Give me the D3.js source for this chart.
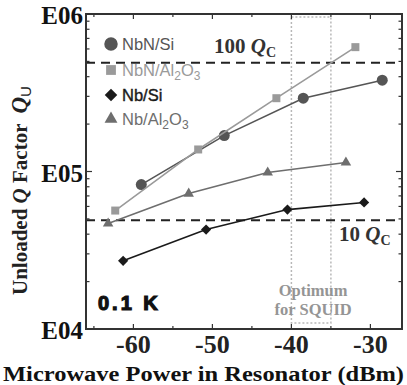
<!DOCTYPE html>
<html>
<head>
<meta charset="utf-8">
<script src="https://cdn.jsdelivr.net/npm/d3@7"></script>
<style>
  body { margin: 0; background: #fff; }
  svg { display: block; }
</style>
</head>
<body>
<div id="chart"></div>
<script>
// data
const seriesNames = ["NbN/Si", "NbN/Al2O3", "Nb/Si", "Nb/Al2O3"];
const nbnSiPower = [-59, -48.5, -38.5, -28.5];
const nbnSiQ = [82600, 169000, 292000, 380000];
const nbnAlPower = [-62.3, -51.8, -41.9, -31.9];
const nbnAlQ = [56500, 138000, 292000, 616000];
const nbSiPower = [-61.3, -50.8, -40.5, -30.8];
const nbSiQ = [27100, 42800, 57300, 63600];
const nbAlPower = [-63.2, -53, -43, -33.1];
const nbAlQ = [46700, 72400, 98600, 114000];
const qc = 4900;
const qcLines = [10, 100];
const xTicks = [-60, -50, -40, -30];
const yTickLabels = ["E04", "E05", "E06"];
const optimumBand = [-40, -35];

const W = 407, H = 385;
const margin = {top: 14, right: 5, bottom: 56, left: 86};

const svg = d3.select("#chart").append("svg")
  .attr("width", W).attr("height", H);

const x = d3.scaleLinear().domain([-66, -26]).range([margin.left, W - margin.right]);
const y = d3.scaleLog().domain([1e4, 1e6]).range([H - margin.bottom, margin.top]);

const serif = "'Liberation Serif', 'Times New Roman', serif";
const sans = "'Liberation Sans', Arial, sans-serif";

// optimum band (dotted box)
svg.append("rect")
  .attr("x", x(optimumBand[0])).attr("y", margin.top + 3)
  .attr("width", x(optimumBand[1]) - x(optimumBand[0]))
  .attr("height", y(1e4) - margin.top - 9)
  .attr("fill", "none").attr("stroke", "#b8b8b8")
  .attr("stroke-width", 1.5).attr("stroke-dasharray", "2,2");

const bandMid = (x(optimumBand[0]) + x(optimumBand[1])) / 2 + 2;
svg.append("text").attr("x", bandMid).attr("y", 296)
  .attr("text-anchor", "middle").attr("font-family", serif).attr("font-weight", "bold")
  .attr("font-size", 16.5).attr("fill", "#959595").text("Optimum");
svg.append("text").attr("x", bandMid).attr("y", 315)
  .attr("text-anchor", "middle").attr("font-family", serif).attr("font-weight", "bold")
  .attr("font-size", 16.5).attr("fill", "#959595").text("for SQUID");

// dashed Qc reference lines
qcLines.forEach(m => {
  svg.append("line")
    .attr("x1", x(-66)).attr("x2", x(-26))
    .attr("y1", y(m * qc)).attr("y2", y(m * qc))
    .attr("stroke", "#222").attr("stroke-width", 2).attr("stroke-dasharray", "9,6");
});

function qcLabel(txt, xp, yp) {
  const t = svg.append("text").attr("x", xp).attr("y", yp)
    .attr("font-family", serif).attr("font-weight", "bold").attr("font-size", 21).attr("fill", "#333");
  t.append("tspan").text(txt + " ");
  t.append("tspan").attr("font-style", "italic").text("Q");
  t.append("tspan").attr("font-size", 14).attr("dy", 4).attr("font-style", "normal").text("C");
}
qcLabel("100", 214, 53);
qcLabel("10", 339, 241);

// axes frame
const g = svg.append("g");
g.append("rect")
  .attr("x", margin.left).attr("y", margin.top)
  .attr("width", W - margin.left - margin.right)
  .attr("height", H - margin.top - margin.bottom)
  .attr("fill", "none").attr("stroke", "#333").attr("stroke-width", 2);

// x ticks (bottom and top, inward)
const xMinor = d3.range(-65, -26, 5);
xMinor.forEach(v => {
  const len = xTicks.includes(v) ? 5 : 3;
  g.append("line").attr("x1", x(v)).attr("x2", x(v))
    .attr("y1", y(1e4)).attr("y2", y(1e4) - len).attr("stroke", "#333").attr("stroke-width", 1.2);
  g.append("line").attr("x1", x(v)).attr("x2", x(v))
    .attr("y1", margin.top).attr("y2", margin.top + len).attr("stroke", "#333").attr("stroke-width", 1.2);
});
xTicks.forEach(v => {
  svg.append("text").attr("x", x(v)).attr("y", 353)
    .attr("text-anchor", "middle").attr("font-family", serif).attr("font-weight", "bold")
    .attr("font-size", 26).attr("fill", "#222").text(v);
});

// y ticks (log, left and right, inward)
const yT = y.ticks().filter(v => v >= 1e4 && v <= 1e6);
yT.forEach(v => {
  const major = Math.abs(Math.log10(v) - Math.round(Math.log10(v))) < 1e-9;
  const len = major ? 6 : 3.5;
  g.append("line").attr("x1", margin.left).attr("x2", margin.left + len)
    .attr("y1", y(v)).attr("y2", y(v)).attr("stroke", "#333").attr("stroke-width", 1.2);
  g.append("line").attr("x1", W - margin.right).attr("x2", W - margin.right - len)
    .attr("y1", y(v)).attr("y2", y(v)).attr("stroke", "#333").attr("stroke-width", 1.2);
});
[1e4, 1e5, 1e6].forEach((v, i) => {
  svg.append("text").attr("x", margin.left - 3).attr("y", y(v) + 10)
    .attr("text-anchor", "end").attr("font-family", serif).attr("font-weight", "bold")
    .attr("font-size", 25).attr("fill", "#111").text(yTickLabels[i]);
});

// axis titles
svg.append("text").attr("x", 3).attr("y", 381)
  .attr("font-family", serif).attr("font-weight", "bold")
  .attr("textLength", 401).attr("lengthAdjust", "spacingAndGlyphs")
  .attr("font-size", 20.5).attr("fill", "#111").text("Microwave Power in Resonator (dBm)");

const yt = svg.append("text").attr("transform", "translate(27,295) rotate(-90)")
  .attr("font-family", serif).attr("font-weight", "bold")
  .attr("font-size", 21).attr("fill", "#222");
yt.append("tspan").text("Unloaded ");
yt.append("tspan").attr("font-style", "italic").text("Q");
yt.append("tspan").text(" Factor");
yt.append("tspan").attr("font-style", "italic").attr("font-size", 23).attr("dx", 10).text("Q");
yt.append("tspan").attr("font-family", sans).attr("font-weight", "normal").attr("font-size", 15).attr("dy", 4).text("U");

// series
const series = [
  {name: seriesNames[0], px: nbnSiPower, q: nbnSiQ, color: "#555", sym: d3.symbolCircle, size: 95, rot: 0},
  {name: seriesNames[1], px: nbnAlPower, q: nbnAlQ, color: "#9a9a9a", sym: d3.symbolSquare, size: 64, rot: 0},
  {name: seriesNames[2], px: nbSiPower, q: nbSiQ, color: "#1a1a1a", sym: d3.symbolSquare, size: 52, rot: 45},
  {name: seriesNames[3], px: nbAlPower, q: nbAlQ, color: "#6e6e6e", sym: d3.symbolTriangle, size: 48, rot: 0}
];

const line = d3.line().x(d => x(d[0])).y(d => y(d[1]));
series.forEach(s => {
  const pts = s.px.map((p, i) => [p, s.q[i]]);
  svg.append("path").datum(pts).attr("d", line)
    .attr("fill", "none").attr("stroke", s.color).attr("stroke-width", 1.6);
  svg.selectAll(null).data(pts).enter().append("path")
    .attr("d", d3.symbol().type(s.sym).size(s.size))
    .attr("transform", d => `translate(${x(d[0])},${y(d[1])}) rotate(${s.rot})`)
    .attr("fill", s.color);
});

// legend
const legY = [44, 70, 95, 119];
series.forEach((s, i) => {
  svg.append("path").attr("d", d3.symbol().type(s.sym).size(s.size * 1.5))
    .attr("transform", `translate(111,${legY[i]}) rotate(${s.rot})`).attr("fill", s.color);
  const t = svg.append("text").attr("x", 122).attr("y", legY[i] + 6)
    .attr("font-family", sans).attr("font-size", 16.5).attr("fill", s.color);
  if (i === 2) t.attr("stroke", s.color).attr("stroke-width", 0.4);
  const m = s.name.match(/^(.*)Al2O3$/);
  if (m) {
    t.append("tspan").text(m[1] + "Al");
    t.append("tspan").attr("font-size", 12).attr("dy", 4).text("2");
    t.append("tspan").attr("dy", -4).text("O");
    t.append("tspan").attr("font-size", 12).attr("dy", 4).text("3");
  } else {
    t.text(s.name);
  }
});

// temperature label
svg.append("text").attr("x", 98).attr("y", 310)
  .attr("font-family", sans).attr("font-weight", "bold")
  .attr("letter-spacing", 3)
  .attr("stroke", "#111").attr("stroke-width", 1.2)
  .attr("font-size", 20).attr("fill", "#111").text("0.1 K");
</script>
</body>
</html>
